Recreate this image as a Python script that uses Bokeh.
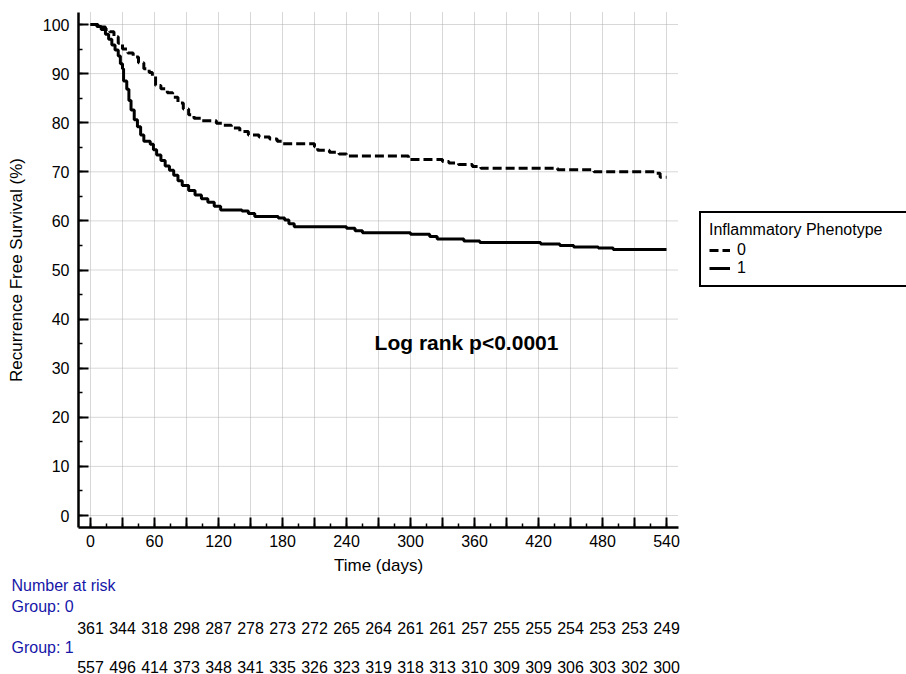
from bokeh.plotting import figure
from bokeh.models import (Range1d, SingleIntervalTicker, CustomJSTickFormatter,
                          Legend, LegendItem, Label)
from bokeh.core.properties import value
from bokeh.embed import file_html
from bokeh.resources import INLINE

FONT = "Liberation Sans"
BLUE = "#1616a8"

# ---- Kaplan-Meier step data ----
time_g0 = [0, 7, 14, 18, 22, 26, 30, 35, 40, 45, 50, 55, 58, 61, 66, 72, 77, 82, 87,
           92, 97, 104, 118, 124, 132, 140, 148, 158, 168, 175, 180, 210, 213, 224,
           233, 240, 298, 330, 336, 345, 358, 366, 438, 472, 530, 534, 540]
surv_g0 = [100, 99.5, 99.0, 98.5, 97.5, 96.2, 95.0, 94.2, 93.4, 92.2, 91.0, 90.2, 89.5,
           87.6, 86.9, 86.1, 85.2, 84.0, 82.8, 81.6, 80.9, 80.4, 79.9, 79.5, 78.9, 78.2,
           77.5, 77.1, 76.7, 76.2, 75.7, 75.1, 74.4, 74.0, 73.6, 73.2, 72.5, 72.1, 71.8,
           71.5, 71.1, 70.7, 70.4, 70.0, 69.7, 68.9, 68.9]

time_g1 = [0, 6, 10, 14, 17, 20, 23, 26, 28, 30, 31, 34, 36, 38, 41, 44, 47, 50, 56, 59,
           62, 66, 70, 74, 78, 82, 86, 92, 98, 104, 110, 116, 122, 142, 148, 154, 176,
           182, 186, 191, 240, 248, 255, 300, 318, 325, 350, 365, 422, 440, 453, 476,
           490, 540]
surv_g1 = [100, 99.6, 99.0, 98.0, 97.0, 95.8, 94.8, 93.6, 92.0, 91.0, 88.5, 86.8, 84.5,
           82.6, 80.6, 79.2, 77.5, 76.2, 75.6, 74.5, 73.4, 72.3, 71.2, 70.3, 69.3, 68.2,
           67.2, 66.2, 65.3, 64.5, 63.8, 63.0, 62.2, 62.0, 61.5, 60.9, 60.6, 60.2, 59.4,
           58.8, 58.5, 58.0, 57.6, 57.3, 56.8, 56.3, 55.9, 55.6, 55.3, 55.0, 54.7, 54.5,
           54.2, 54.2]

group_labels = ["0", "1"]
legend_title = "Inflammatory Phenotype"

# grid / tick positions
x_grid_days = [0, 30, 60, 90, 120, 150, 180, 210, 240, 270, 300, 330, 360, 390, 420,
               450, 480, 510, 540]
y_grid_pct = [0, 10, 20, 30, 40, 50, 60, 70, 80, 90, 100]

# ---- Number at risk ----
risk_times = [0, 30, 60, 90, 120, 150, 180, 210, 240, 270, 300, 330, 360, 390, 420,
              450, 480, 510, 540]
risk_g0 = [361, 344, 318, 298, 287, 278, 273, 272, 265, 264, 261, 261, 257, 255, 255,
           254, 253, 253, 249]
risk_g1 = [557, 496, 414, 373, 348, 341, 335, 326, 323, 319, 318, 313, 310, 309, 309,
           306, 303, 302, 300]
risk_headers = ["Number at risk", "Group: 0", "Group: 1"]

# ---- page-pixel -> data helpers (layout only) ----
W, H = 906, 674
X0_PX = 90.0
PX_PER_DAY = 576.0 / 540.0
Y100_PX = 24.0
PX_PER_PCT = 4.91


def dx(px):
    return (px - X0_PX) / PX_PER_DAY


def dy(py):
    return 100 - (py - Y100_PX) / PX_PER_PCT


AX_L, AX_R, AX_T, AX_B = 78, 678, 12, 527   # plot box in page pixels

p = figure(width=W, height=H,
           x_range=Range1d(dx(0), dx(W)), y_range=Range1d(dy(H), dy(0)),
           output_backend="svg", toolbar_location=None,
           min_border_left=0, min_border_right=0, min_border_top=0,
           min_border_bottom=0)
p.outline_line_color = None
p.background_fill_color = "white"
p.border_fill_color = "white"
p.xgrid.visible = False
p.ygrid.visible = False

# grid lines limited to the plot box
p.segment(x0=[dx(AX_L)] * len(y_grid_pct), x1=[dx(AX_R)] * len(y_grid_pct),
          y0=y_grid_pct, y1=y_grid_pct, line_color="#b0b0b0", line_width=1,
          line_dash="1 1")
p.segment(x0=x_grid_days, x1=x_grid_days,
          y0=[dy(AX_B)] * len(x_grid_days), y1=[dy(AX_T)] * len(x_grid_days),
          line_color="#b0b0b0", line_width=1, line_dash="1 1")

# axes at fixed locations
p.xaxis.fixed_location = dy(AX_B)
p.xaxis.bounds = (dx(AX_L), dx(AX_R))
p.xaxis.ticker = SingleIntervalTicker(interval=30, num_minor_ticks=2)
p.xaxis.formatter = CustomJSTickFormatter(
    code="return (Math.round(tick) % 60 == 0) ? tick.toFixed(0) : '';")
p.yaxis.fixed_location = dx(AX_L)
p.yaxis.bounds = (dy(AX_B), dy(AX_T))
p.yaxis.ticker = SingleIntervalTicker(interval=10, num_minor_ticks=2)

for ax in (p.xaxis[0], p.yaxis[0]):
    ax.axis_line_width = 2.5
    ax.axis_line_color = "black"
    ax.major_tick_in = 10
    ax.major_tick_out = 0
    ax.minor_tick_in = 4
    ax.minor_tick_out = 0
    ax.major_tick_line_width = 2
    ax.minor_tick_line_width = 1.5
    ax.major_tick_line_color = "black"
    ax.minor_tick_line_color = "black"
    ax.major_label_text_font = FONT
    ax.major_label_text_font_size = "16px"
    ax.major_label_text_color = "black"
    ax.axis_label_text_font = FONT
    ax.axis_label_text_font_size = "17px"
    ax.axis_label_text_font_style = "normal"
    ax.axis_label_text_color = "black"

p.xaxis.axis_label = "Time (days)"
p.xaxis.major_label_standoff = 7
p.xaxis.axis_label_standoff = 6
p.yaxis.axis_label = "Recurrence Free Survival (%)"
p.yaxis.major_label_standoff = 9
p.yaxis.axis_label_standoff = 14

# curves
r0 = p.step(time_g0, surv_g0, mode="after", line_color="black", line_width=3,
            line_dash="9 4")
r1 = p.step(time_g1, surv_g1, mode="after", line_color="black", line_width=3)

legend = Legend(items=[LegendItem(label=group_labels[0], renderers=[r0]),
                       LegendItem(label=group_labels[1], renderers=[r1])],
                location=(699, H - 287), title=legend_title)
legend.title_text_font = FONT
legend.title_text_font_size = "16px"
legend.title_text_font_style = "normal"
legend.title_text_color = "black"
legend.title_standoff = 2
legend.label_text_font = FONT
legend.label_text_font_size = "16px"
legend.label_text_color = "black"
legend.label_standoff = 7
legend.glyph_width = 21
legend.glyph_height = 18
legend.label_height = 18
legend.label_width = 200
legend.spacing = 0
legend.padding = 8
legend.margin = 0
legend.border_line_color = "black"
legend.border_line_alpha = 1
legend.border_line_width = 2
legend.background_fill_color = "white"
legend.background_fill_alpha = 1
p.add_layout(legend)

# log-rank annotation
p.add_layout(Label(x=dx(466), y=dy(342), text="Log rank p<0.0001",
                   text_align="center", text_baseline="middle",
                   text_font=FONT, text_font_size="21px", text_font_style="bold",
                   text_color="black"))

# ---- number at risk table ----
header_py = [585, 606, 647]
p.text(x=[dx(11)] * len(risk_headers), y=[dy(v) for v in header_py], text=risk_headers,
       text_align="left", text_baseline="middle", text_font=value(FONT),
       text_font_size="16px", text_color=BLUE)

for counts, py in ((risk_g0, 627), (risk_g1, 666)):
    p.text(x=risk_times, y=[dy(py)] * len(counts), text=[str(n) for n in counts],
           text_align="center", text_baseline="middle", text_font=value(FONT),
           text_font_size="16px", text_color="black")

open("out.html", "w").write(file_html(p, INLINE))
